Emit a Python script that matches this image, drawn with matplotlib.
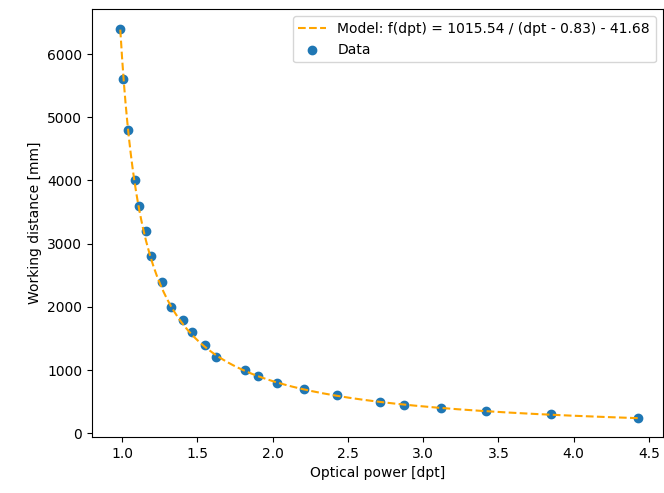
import numpy as np
import matplotlib.pyplot as plt

dpt = np.array([0.988, 1.008, 1.040, 1.084, 1.112, 1.160, 1.195, 1.265, 1.327,
                1.404, 1.464, 1.553, 1.622, 1.814, 1.902, 2.031, 2.208, 2.430,
                2.711, 2.876, 3.120, 3.416, 3.847, 4.428])
dist = np.array([6400, 5600, 4800, 4000, 3600, 3200, 2800, 2400, 2000,
                 1800, 1600, 1400, 1200, 1000, 900, 800, 700, 600,
                 500, 450, 400, 350, 300, 250])

# fitted model parameters shown in the legend
a, b, c = 1015.54, 0.83, 41.68

def model(x):
    return a / (x - b) - c

fig = plt.figure(figsize=(6.64, 4.93), dpi=100)
ax = fig.add_axes([92 / 664, 1 - 437 / 493, (662.5 - 92) / 664, (437 - 9.3) / 493])

x_fit = np.linspace(dpt.min(), dpt.max(), 300)
ax.plot(x_fit, model(x_fit), '--', color='orange', zorder=3,
        label=f'Model: f(dpt) = {a:.2f} / (dpt - {b:.2f}) - {c:.2f}')
ax.scatter(dpt, dist, label='Data', zorder=2)

ax.set_xlim(0.80, 4.59)
ax.set_ylim(-57.5, 6707.5)
ax.set_xlabel('Optical power [dpt]')
ax.set_ylabel('Working distance [mm]')
ax.legend(loc='upper right')

fig.savefig('out.png', dpi=100)
